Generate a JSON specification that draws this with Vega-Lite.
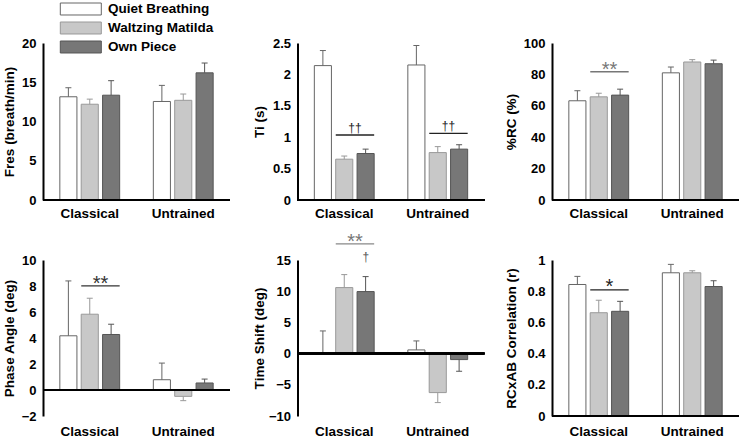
{
  "$schema": "https://vega.github.io/schema/vega-lite/v6.json",
  "autosize": {"type": "pad"},
  "padding": {"left": 2, "top": 0, "right": 0, "bottom": 0},
  "background": "white",
  "datasets": {
    "fres": [
      {"group": "Classical", "cond": "Quiet Breathing", "v": 13.15, "e": 14.3},
      {"group": "Classical", "cond": "Waltzing Matilda", "v": 12.2, "e": 12.85},
      {"group": "Classical", "cond": "Own Piece", "v": 13.35, "e": 15.2},
      {"group": "Untrained", "cond": "Quiet Breathing", "v": 12.55, "e": 14.6},
      {"group": "Untrained", "cond": "Waltzing Matilda", "v": 12.7, "e": 13.5},
      {"group": "Untrained", "cond": "Own Piece", "v": 16.2, "e": 17.45}
    ],
    "ti": [
      {"group": "Classical", "cond": "Quiet Breathing", "v": 2.14, "e": 2.38},
      {"group": "Classical", "cond": "Waltzing Matilda", "v": 0.65, "e": 0.7},
      {"group": "Classical", "cond": "Own Piece", "v": 0.74, "e": 0.81},
      {"group": "Untrained", "cond": "Quiet Breathing", "v": 2.15, "e": 2.46},
      {"group": "Untrained", "cond": "Waltzing Matilda", "v": 0.755, "e": 0.85},
      {"group": "Untrained", "cond": "Own Piece", "v": 0.81, "e": 0.88}
    ],
    "rc": [
      {"group": "Classical", "cond": "Quiet Breathing", "v": 63.2, "e": 69.6},
      {"group": "Classical", "cond": "Waltzing Matilda", "v": 65.7, "e": 68},
      {"group": "Classical", "cond": "Own Piece", "v": 66.8, "e": 70.6},
      {"group": "Untrained", "cond": "Quiet Breathing", "v": 81, "e": 84.7},
      {"group": "Untrained", "cond": "Waltzing Matilda", "v": 87.9, "e": 89.4},
      {"group": "Untrained", "cond": "Own Piece", "v": 86.8, "e": 89.1}
    ],
    "phase": [
      {"group": "Classical", "cond": "Quiet Breathing", "v": 4.17, "e": 8.39},
      {"group": "Classical", "cond": "Waltzing Matilda", "v": 5.83, "e": 7.06},
      {"group": "Classical", "cond": "Own Piece", "v": 4.27, "e": 5.06},
      {"group": "Untrained", "cond": "Quiet Breathing", "v": 0.79, "e": 2.07},
      {"group": "Untrained", "cond": "Waltzing Matilda", "v": -0.49, "e": -0.82},
      {"group": "Untrained", "cond": "Own Piece", "v": 0.54, "e": 0.84}
    ],
    "ts": [
      {"group": "Classical", "cond": "Quiet Breathing", "v": 0, "e": 3.63},
      {"group": "Classical", "cond": "Waltzing Matilda", "v": 10.58, "e": 12.66},
      {"group": "Classical", "cond": "Own Piece", "v": 9.94, "e": 12.34},
      {"group": "Untrained", "cond": "Quiet Breathing", "v": 0.59, "e": 2.03},
      {"group": "Untrained", "cond": "Waltzing Matilda", "v": -6.25, "e": -7.85},
      {"group": "Untrained", "cond": "Own Piece", "v": -0.96, "e": -2.83}
    ],
    "corr": [
      {"group": "Classical", "cond": "Quiet Breathing", "v": 0.843, "e": 0.895},
      {"group": "Classical", "cond": "Waltzing Matilda", "v": 0.662, "e": 0.742},
      {"group": "Classical", "cond": "Own Piece", "v": 0.671, "e": 0.735},
      {"group": "Untrained", "cond": "Quiet Breathing", "v": 0.918, "e": 0.972},
      {"group": "Untrained", "cond": "Waltzing Matilda", "v": 0.918, "e": 0.931},
      {"group": "Untrained", "cond": "Own Piece", "v": 0.83, "e": 0.867}
    ],
    "ann_ti": [
      {"group": "Classical", "ly": 1.035, "ty": 1.09, "label": "††"},
      {"group": "Untrained", "ly": 1.06, "ty": 1.11, "label": "††"}
    ],
    "ann_rc": [{"group": "Classical", "ly": 81.7, "ty": 78.7, "label": "**"}],
    "ann_phase": [{"group": "Classical", "ly": 8.01, "ty": 7.7, "label": "**"}],
    "ann_ts": [{"group": "Classical", "ly": 17.6, "ty": 16.85, "label": "**"}],
    "ann_ts2": [{"group": "Classical", "ty": 14.88, "label": "†"}],
    "ann_corr": [{"group": "Classical", "ly": 0.809, "ty": 0.787, "label": "*"}]
  },
  "concat": [
    {
      "width": 187, "height": 157,
      "layer": [
        {"data": {"name": "fres"}, "mark": {"type": "bar", "strokeWidth": 1},
          "encoding": {
            "x": {"field": "group", "type": "nominal", "sort": ["Classical", "Untrained"], "scale": {"paddingInner": 0.36, "paddingOuter": 0.18}, "axis": {"title": null, "domain": false, "ticks": false, "labelAngle": 0, "labelPadding": 6, "labelFontSize": 13.5}},
            "xOffset": {"field": "cond", "type": "nominal", "sort": ["Quiet Breathing", "Waltzing Matilda", "Own Piece"], "scale": {"paddingInner": 0.2, "paddingOuter": 0}},
            "y": {"field": "v", "type": "quantitative", "scale": {"domain": [0, 20], "nice": false}, "axis": {"title": "Fres (breath/min)", "values": [0, 5, 10, 15, 20], "tickCount": 30, "labelExpr": "format(datum.value, '~g')", "minExtent": 21.5, "maxExtent": 21.5}},
            "color": {"field": "cond", "type": "nominal", "title": null, "scale": {"domain": ["Quiet Breathing", "Waltzing Matilda", "Own Piece"], "range": ["#ffffff", "#c8c8c8", "#777777"]}},
            "stroke": {"field": "cond", "type": "nominal", "title": null, "scale": {"domain": ["Quiet Breathing", "Waltzing Matilda", "Own Piece"], "range": ["#666666", "#999999", "#555555"]}}
          }},
        {"data": {"name": "fres"}, "mark": {"type": "rule", "strokeWidth": 1},
          "encoding": {
            "x": {"field": "group", "type": "nominal"},
            "xOffset": {"field": "cond", "type": "nominal", "sort": ["Quiet Breathing", "Waltzing Matilda", "Own Piece"]},
            "y": {"field": "v", "type": "quantitative"}, "y2": {"field": "e"},
            "stroke": {"field": "cond", "type": "nominal", "title": null}
          }},
        {"data": {"name": "fres"}, "mark": {"type": "point", "shape": "stroke", "size": 36, "strokeWidth": 1, "opacity": 1},
          "encoding": {
            "x": {"field": "group", "type": "nominal"},
            "xOffset": {"field": "cond", "type": "nominal", "sort": ["Quiet Breathing", "Waltzing Matilda", "Own Piece"]},
            "y": {"field": "e", "type": "quantitative"},
            "stroke": {"field": "cond", "type": "nominal", "title": null}
          }},
        {"data": {"name": "fres"}, "mark": {"type": "rule", "color": "black", "strokeWidth": 2}, "encoding": {"y": {"datum": 0, "type": "quantitative"}}}
      ]
    },
    {
      "width": 187, "height": 157,
      "layer": [
        {"data": {"name": "ti"}, "mark": {"type": "bar", "strokeWidth": 1},
          "encoding": {
            "x": {"field": "group", "type": "nominal", "sort": ["Classical", "Untrained"], "scale": {"paddingInner": 0.36, "paddingOuter": 0.18}, "axis": {"title": null, "domain": false, "ticks": false, "labelAngle": 0, "labelPadding": 6, "labelFontSize": 13.5}},
            "xOffset": {"field": "cond", "type": "nominal", "sort": ["Quiet Breathing", "Waltzing Matilda", "Own Piece"], "scale": {"paddingInner": 0.2, "paddingOuter": 0}},
            "y": {"field": "v", "type": "quantitative", "scale": {"domain": [0, 2.5], "nice": false}, "axis": {"title": "Ti (s)", "values": [0, 0.5, 1, 1.5, 2, 2.5], "tickCount": 30, "labelExpr": "format(datum.value, '~g')", "minExtent": 26, "maxExtent": 26}},
            "color": {"field": "cond", "type": "nominal", "title": null},
            "stroke": {"field": "cond", "type": "nominal", "title": null}
          }},
        {"data": {"name": "ti"}, "mark": {"type": "rule", "strokeWidth": 1},
          "encoding": {
            "x": {"field": "group", "type": "nominal"},
            "xOffset": {"field": "cond", "type": "nominal", "sort": ["Quiet Breathing", "Waltzing Matilda", "Own Piece"]},
            "y": {"field": "v", "type": "quantitative"}, "y2": {"field": "e"},
            "stroke": {"field": "cond", "type": "nominal", "title": null}
          }},
        {"data": {"name": "ti"}, "mark": {"type": "point", "shape": "stroke", "size": 36, "strokeWidth": 1, "opacity": 1},
          "encoding": {
            "x": {"field": "group", "type": "nominal"},
            "xOffset": {"field": "cond", "type": "nominal", "sort": ["Quiet Breathing", "Waltzing Matilda", "Own Piece"]},
            "y": {"field": "e", "type": "quantitative"},
            "stroke": {"field": "cond", "type": "nominal", "title": null}
          }},
        {"data": {"name": "ti"}, "mark": {"type": "rule", "color": "black", "strokeWidth": 2}, "encoding": {"y": {"datum": 0, "type": "quantitative"}}},
        {"data": {"name": "ann_ti"}, "mark": {"type": "rule", "color": "#222222", "strokeWidth": 1.3},
          "encoding": {"x": {"field": "group", "type": "nominal", "bandPosition": 0.358}, "x2": {"field": "group", "bandPosition": 1}, "y": {"field": "ly", "type": "quantitative"}}},
        {"data": {"name": "ann_ti"}, "mark": {"type": "text", "fontSize": 12, "color": "#222222", "baseline": "alphabetic", "align": "center", "font": "Liberation Sans"},
          "encoding": {"x": {"field": "group", "type": "nominal", "bandPosition": 0.679}, "y": {"field": "ty", "type": "quantitative"}, "text": {"field": "label"}}}
      ]
    },
    {
      "width": 187, "height": 157,
      "layer": [
        {"data": {"name": "rc"}, "mark": {"type": "bar", "strokeWidth": 1},
          "encoding": {
            "x": {"field": "group", "type": "nominal", "sort": ["Classical", "Untrained"], "scale": {"paddingInner": 0.36, "paddingOuter": 0.18}, "axis": {"title": null, "domain": false, "ticks": false, "labelAngle": 0, "labelPadding": 6, "labelFontSize": 13.5}},
            "xOffset": {"field": "cond", "type": "nominal", "sort": ["Quiet Breathing", "Waltzing Matilda", "Own Piece"], "scale": {"paddingInner": 0.2, "paddingOuter": 0}},
            "y": {"field": "v", "type": "quantitative", "scale": {"domain": [0, 100], "nice": false}, "axis": {"title": "%RC (%)", "values": [0, 20, 40, 60, 80, 100], "tickCount": 30, "labelExpr": "format(datum.value, '~g')", "minExtent": 29, "maxExtent": 29}},
            "color": {"field": "cond", "type": "nominal", "title": null},
            "stroke": {"field": "cond", "type": "nominal", "title": null}
          }},
        {"data": {"name": "rc"}, "mark": {"type": "rule", "strokeWidth": 1},
          "encoding": {
            "x": {"field": "group", "type": "nominal"},
            "xOffset": {"field": "cond", "type": "nominal", "sort": ["Quiet Breathing", "Waltzing Matilda", "Own Piece"]},
            "y": {"field": "v", "type": "quantitative"}, "y2": {"field": "e"},
            "stroke": {"field": "cond", "type": "nominal", "title": null}
          }},
        {"data": {"name": "rc"}, "mark": {"type": "point", "shape": "stroke", "size": 36, "strokeWidth": 1, "opacity": 1},
          "encoding": {
            "x": {"field": "group", "type": "nominal"},
            "xOffset": {"field": "cond", "type": "nominal", "sort": ["Quiet Breathing", "Waltzing Matilda", "Own Piece"]},
            "y": {"field": "e", "type": "quantitative"},
            "stroke": {"field": "cond", "type": "nominal", "title": null}
          }},
        {"data": {"name": "rc"}, "mark": {"type": "rule", "color": "black", "strokeWidth": 2}, "encoding": {"y": {"datum": 0, "type": "quantitative"}}},
        {"data": {"name": "ann_rc"}, "mark": {"type": "rule", "color": "#777777", "strokeWidth": 1.3},
          "encoding": {"x": {"field": "group", "type": "nominal", "bandPosition": 0.358}, "x2": {"field": "group", "bandPosition": 1}, "y": {"field": "ly", "type": "quantitative"}}},
        {"data": {"name": "ann_rc"}, "mark": {"type": "text", "fontSize": 20, "color": "#777777", "baseline": "alphabetic", "align": "center", "font": "Liberation Sans"},
          "encoding": {"x": {"field": "group", "type": "nominal", "bandPosition": 0.679}, "y": {"field": "ty", "type": "quantitative"}, "text": {"field": "label"}}}
      ]
    },
    {
      "width": 187, "height": 156,
      "layer": [
        {"data": {"name": "phase"}, "mark": {"type": "bar", "strokeWidth": 1},
          "encoding": {
            "x": {"field": "group", "type": "nominal", "sort": ["Classical", "Untrained"], "scale": {"paddingInner": 0.36, "paddingOuter": 0.18}, "axis": {"title": null, "domain": false, "ticks": false, "labelAngle": 0, "labelPadding": 8, "labelFontSize": 13.5}},
            "xOffset": {"field": "cond", "type": "nominal", "sort": ["Quiet Breathing", "Waltzing Matilda", "Own Piece"], "scale": {"paddingInner": 0.2, "paddingOuter": 0}},
            "y": {"field": "v", "type": "quantitative", "scale": {"domain": [-2, 10], "nice": false}, "axis": {"title": "Phase Angle (deg)", "values": [-2, 0, 2, 4, 6, 8, 10], "tickCount": 30, "labelExpr": "format(datum.value, '~g')", "minExtent": 21.5, "maxExtent": 21.5}},
            "color": {"field": "cond", "type": "nominal", "title": null},
            "stroke": {"field": "cond", "type": "nominal", "title": null}
          }},
        {"data": {"name": "phase"}, "mark": {"type": "rule", "strokeWidth": 1},
          "encoding": {
            "x": {"field": "group", "type": "nominal"},
            "xOffset": {"field": "cond", "type": "nominal", "sort": ["Quiet Breathing", "Waltzing Matilda", "Own Piece"]},
            "y": {"field": "v", "type": "quantitative"}, "y2": {"field": "e"},
            "stroke": {"field": "cond", "type": "nominal", "title": null}
          }},
        {"data": {"name": "phase"}, "mark": {"type": "point", "shape": "stroke", "size": 36, "strokeWidth": 1, "opacity": 1},
          "encoding": {
            "x": {"field": "group", "type": "nominal"},
            "xOffset": {"field": "cond", "type": "nominal", "sort": ["Quiet Breathing", "Waltzing Matilda", "Own Piece"]},
            "y": {"field": "e", "type": "quantitative"},
            "stroke": {"field": "cond", "type": "nominal", "title": null}
          }},
        {"data": {"name": "phase"}, "mark": {"type": "rule", "color": "black", "strokeWidth": 2}, "encoding": {"y": {"datum": 0, "type": "quantitative"}}},
        {"data": {"name": "ann_phase"}, "mark": {"type": "rule", "color": "#333333", "strokeWidth": 1.3},
          "encoding": {"x": {"field": "group", "type": "nominal", "bandPosition": 0.358}, "x2": {"field": "group", "bandPosition": 1}, "y": {"field": "ly", "type": "quantitative"}}},
        {"data": {"name": "ann_phase"}, "mark": {"type": "text", "fontSize": 20, "color": "#333333", "baseline": "alphabetic", "align": "center", "font": "Liberation Sans"},
          "encoding": {"x": {"field": "group", "type": "nominal", "bandPosition": 0.679}, "y": {"field": "ty", "type": "quantitative"}, "text": {"field": "label"}}}
      ]
    },
    {
      "width": 187, "height": 156,
      "layer": [
        {"data": {"name": "ts"}, "mark": {"type": "bar", "strokeWidth": 1},
          "encoding": {
            "x": {"field": "group", "type": "nominal", "sort": ["Classical", "Untrained"], "scale": {"paddingInner": 0.36, "paddingOuter": 0.18}, "axis": {"title": null, "domain": false, "ticks": false, "labelAngle": 0, "labelPadding": 8, "labelFontSize": 13.5}},
            "xOffset": {"field": "cond", "type": "nominal", "sort": ["Quiet Breathing", "Waltzing Matilda", "Own Piece"], "scale": {"paddingInner": 0.2, "paddingOuter": 0}},
            "y": {"field": "v", "type": "quantitative", "scale": {"domain": [-10, 15], "nice": false}, "axis": {"title": "Time Shift (deg)", "values": [-10, -5, 0, 5, 10, 15], "tickCount": 30, "labelExpr": "format(datum.value, '~g')", "minExtent": 26.5, "maxExtent": 26.5}},
            "color": {"field": "cond", "type": "nominal", "title": null},
            "stroke": {"field": "cond", "type": "nominal", "title": null}
          }},
        {"data": {"name": "ts"}, "mark": {"type": "rule", "strokeWidth": 1},
          "encoding": {
            "x": {"field": "group", "type": "nominal"},
            "xOffset": {"field": "cond", "type": "nominal", "sort": ["Quiet Breathing", "Waltzing Matilda", "Own Piece"]},
            "y": {"field": "v", "type": "quantitative"}, "y2": {"field": "e"},
            "stroke": {"field": "cond", "type": "nominal", "title": null}
          }},
        {"data": {"name": "ts"}, "mark": {"type": "point", "shape": "stroke", "size": 36, "strokeWidth": 1, "opacity": 1},
          "encoding": {
            "x": {"field": "group", "type": "nominal"},
            "xOffset": {"field": "cond", "type": "nominal", "sort": ["Quiet Breathing", "Waltzing Matilda", "Own Piece"]},
            "y": {"field": "e", "type": "quantitative"},
            "stroke": {"field": "cond", "type": "nominal", "title": null}
          }},
        {"data": {"name": "ts"}, "mark": {"type": "rule", "color": "black", "strokeWidth": 2}, "encoding": {"y": {"datum": 0, "type": "quantitative"}}},
        {"data": {"name": "ann_ts"}, "mark": {"type": "rule", "color": "#888888", "strokeWidth": 1.3},
          "encoding": {"x": {"field": "group", "type": "nominal", "bandPosition": 0.358}, "x2": {"field": "group", "bandPosition": 1}, "y": {"field": "ly", "type": "quantitative"}}},
        {"data": {"name": "ann_ts"}, "mark": {"type": "text", "fontSize": 20, "color": "#777777", "baseline": "alphabetic", "align": "center", "font": "Liberation Sans"},
          "encoding": {"x": {"field": "group", "type": "nominal", "bandPosition": 0.679}, "y": {"field": "ty", "type": "quantitative"}, "text": {"field": "label"}}},
        {"data": {"name": "ann_ts2"}, "mark": {"type": "text", "fontSize": 12, "color": "#555555", "baseline": "alphabetic", "align": "center", "font": "Liberation Sans"},
          "encoding": {"x": {"field": "group", "type": "nominal", "bandPosition": 0.859}, "y": {"field": "ty", "type": "quantitative"}, "text": {"field": "label"}}}
      ]
    },
    {
      "width": 187, "height": 156,
      "layer": [
        {"data": {"name": "corr"}, "mark": {"type": "bar", "strokeWidth": 1},
          "encoding": {
            "x": {"field": "group", "type": "nominal", "sort": ["Classical", "Untrained"], "scale": {"paddingInner": 0.36, "paddingOuter": 0.18}, "axis": {"title": null, "domain": false, "ticks": false, "labelAngle": 0, "labelPadding": 8, "labelFontSize": 13.5}},
            "xOffset": {"field": "cond", "type": "nominal", "sort": ["Quiet Breathing", "Waltzing Matilda", "Own Piece"], "scale": {"paddingInner": 0.2, "paddingOuter": 0}},
            "y": {"field": "v", "type": "quantitative", "scale": {"domain": [0, 1], "nice": false}, "axis": {"title": "RCxAB Correlation (r)", "values": [0, 0.2, 0.4, 0.6, 0.8, 1], "tickCount": 30, "labelExpr": "format(datum.value, '~g')", "minExtent": 29, "maxExtent": 29}},
            "color": {"field": "cond", "type": "nominal", "title": null},
            "stroke": {"field": "cond", "type": "nominal", "title": null}
          }},
        {"data": {"name": "corr"}, "mark": {"type": "rule", "strokeWidth": 1},
          "encoding": {
            "x": {"field": "group", "type": "nominal"},
            "xOffset": {"field": "cond", "type": "nominal", "sort": ["Quiet Breathing", "Waltzing Matilda", "Own Piece"]},
            "y": {"field": "v", "type": "quantitative"}, "y2": {"field": "e"},
            "stroke": {"field": "cond", "type": "nominal", "title": null}
          }},
        {"data": {"name": "corr"}, "mark": {"type": "point", "shape": "stroke", "size": 36, "strokeWidth": 1, "opacity": 1},
          "encoding": {
            "x": {"field": "group", "type": "nominal"},
            "xOffset": {"field": "cond", "type": "nominal", "sort": ["Quiet Breathing", "Waltzing Matilda", "Own Piece"]},
            "y": {"field": "e", "type": "quantitative"},
            "stroke": {"field": "cond", "type": "nominal", "title": null}
          }},
        {"data": {"name": "corr"}, "mark": {"type": "rule", "color": "black", "strokeWidth": 2}, "encoding": {"y": {"datum": 0, "type": "quantitative"}}},
        {"data": {"name": "ann_corr"}, "mark": {"type": "rule", "color": "#222222", "strokeWidth": 1.3},
          "encoding": {"x": {"field": "group", "type": "nominal", "bandPosition": 0.358}, "x2": {"field": "group", "bandPosition": 1}, "y": {"field": "ly", "type": "quantitative"}}},
        {"data": {"name": "ann_corr"}, "mark": {"type": "text", "fontSize": 20, "color": "#222222", "baseline": "alphabetic", "align": "center", "font": "Liberation Sans"},
          "encoding": {"x": {"field": "group", "type": "nominal", "bandPosition": 0.679}, "y": {"field": "ty", "type": "quantitative"}, "text": {"field": "label"}}}
      ]
    }
  ],
  "columns": 3,
  "spacing": {"row": 60, "column": 67.5},
  "bounds": "flush",
  "config": {
    "view": {"stroke": null},
    "font": "Liberation Sans",
    "axis": {
      "domainColor": "black", "domainWidth": 2, "ticks": false, "grid": false, "labelOverlap": false,
      "labelFont": "Liberation Sans", "labelFontSize": 13, "labelFontWeight": "bold", "labelColor": "black", "labelPadding": 7,
      "titleFont": "Liberation Sans", "titleFontSize": 13.5, "titleFontWeight": "bold", "titleColor": "black", "titlePadding": 5
    },
    "legend": {
      "orient": "none", "legendX": 28.8, "legendY": -43,
      "symbolType": "M-2.5,-0.73H2.5V0.73H-2.5Z", "symbolSize": 269, "symbolStrokeWidth": 1,
      "labelFont": "Liberation Sans", "labelFontSize": 13.5, "labelFontWeight": "bold", "labelColor": "black",
      "labelOffset": 18.3, "rowPadding": 2
    }
  }
}
